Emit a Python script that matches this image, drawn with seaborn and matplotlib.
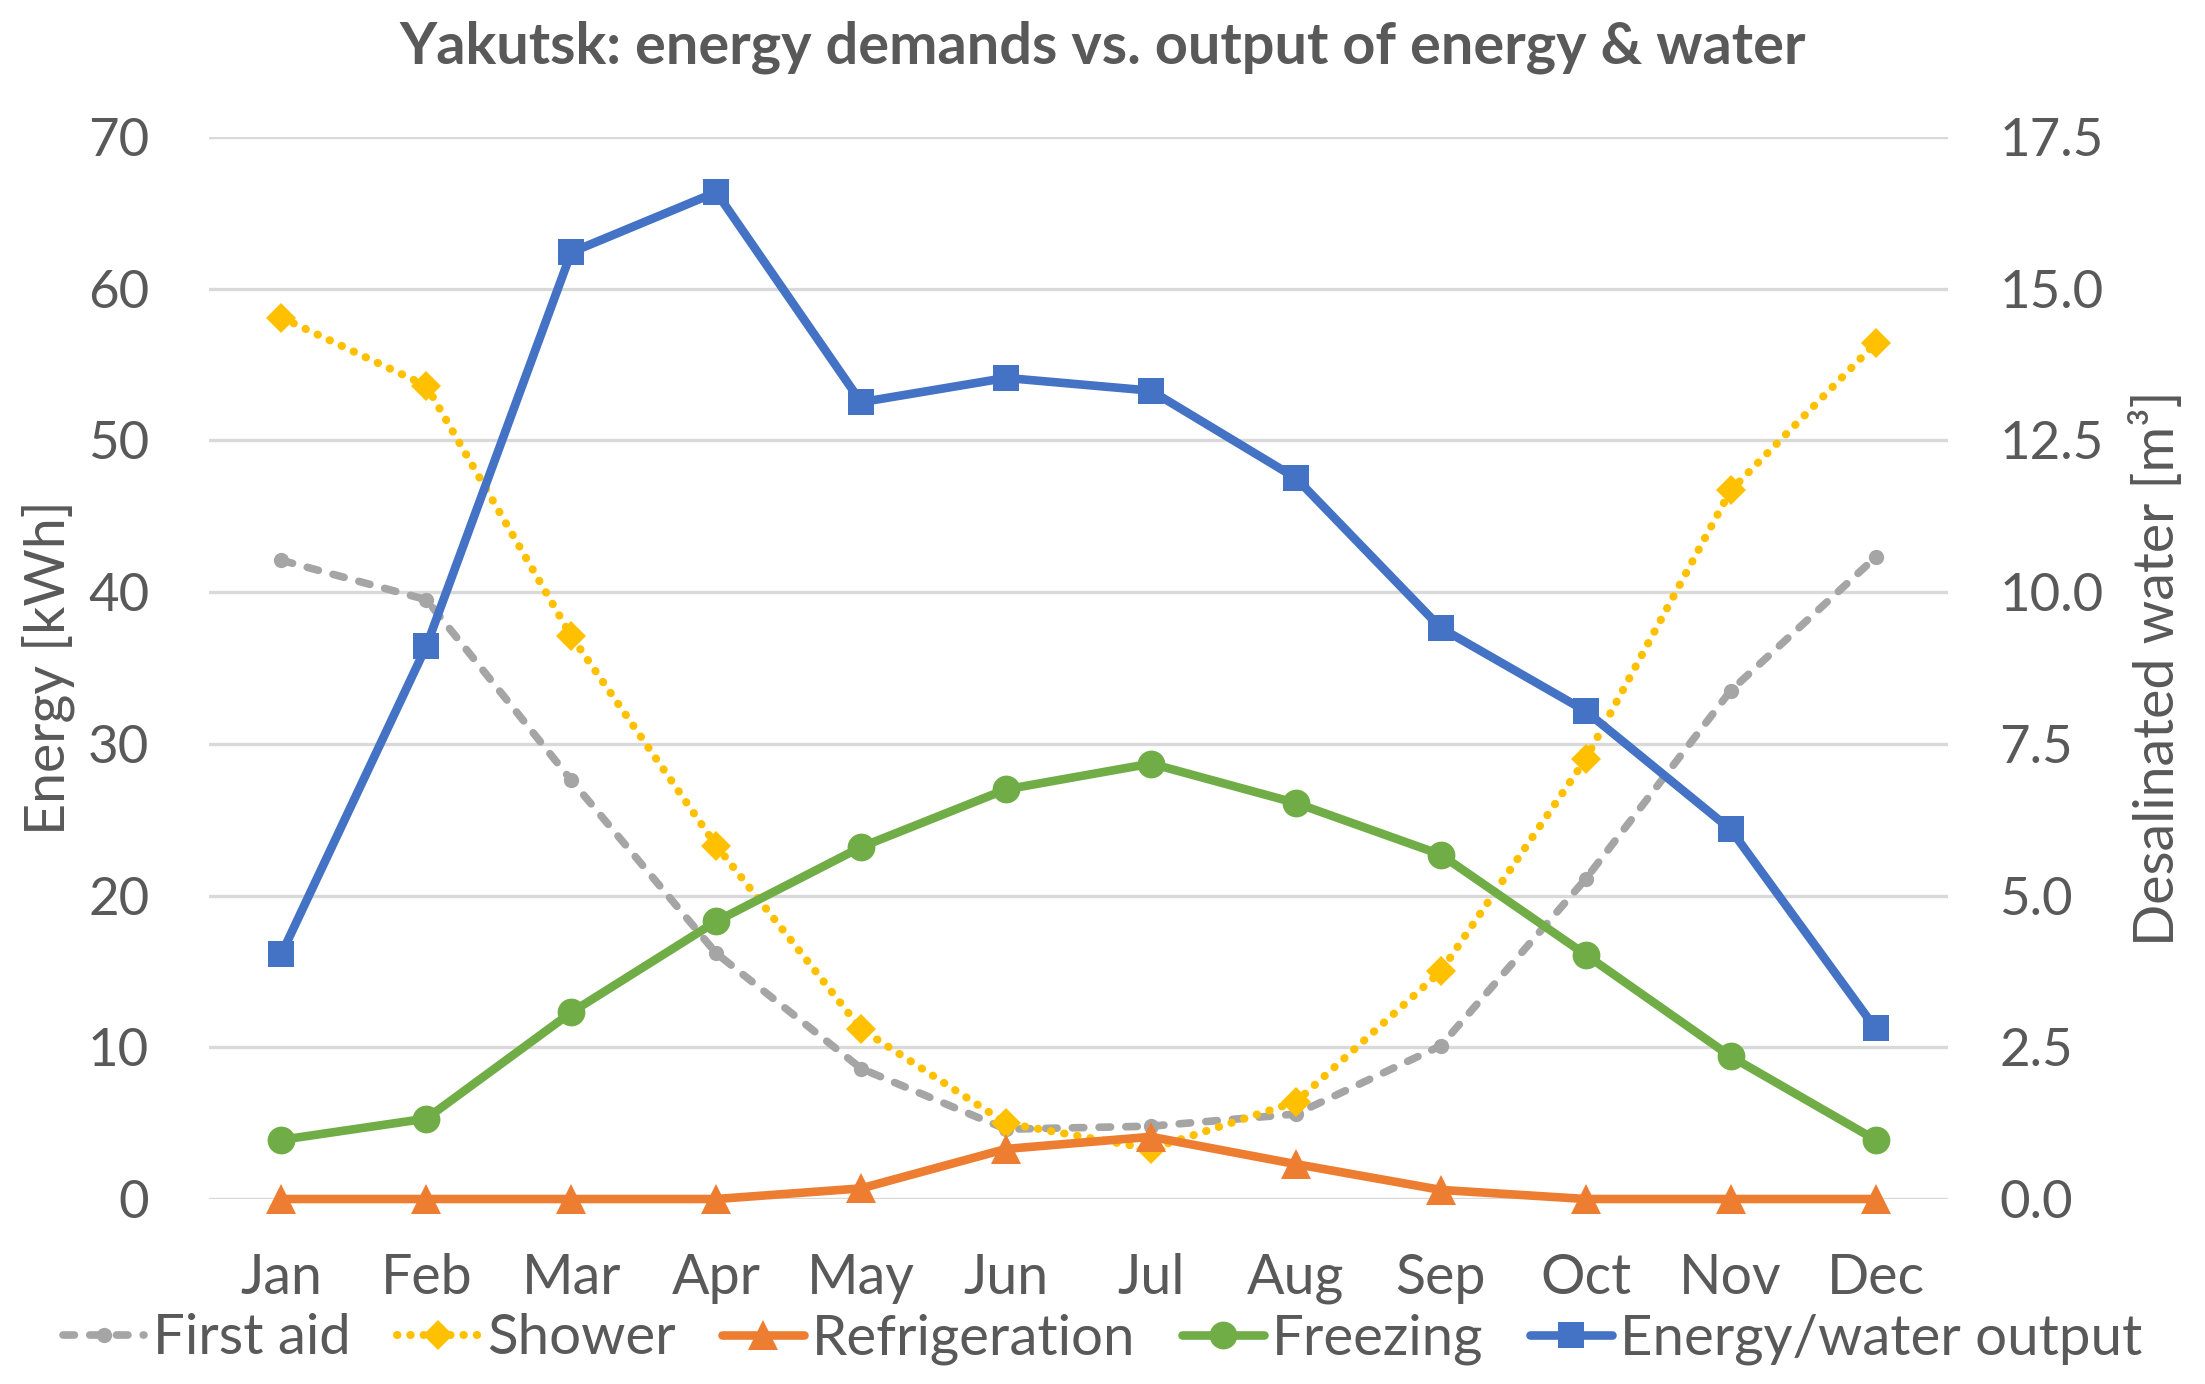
import matplotlib
matplotlib.use("Agg")
import matplotlib.pyplot as plt
import seaborn as sns
import pandas as pd

months = ["Jan", "Feb", "Mar", "Apr", "May", "Jun", "Jul", "Aug", "Sep", "Oct", "Nov", "Dec"]
first_aid = [42.1, 39.5, 27.6, 16.2, 8.6, 4.6, 4.8, 5.6, 10.1, 21.1, 33.5, 42.3]
shower = [58.1, 53.6, 37.1, 23.3, 11.2, 5.0, 3.3, 6.4, 15.0, 29.0, 46.7, 56.4]
refrigeration = [0.0, 0.0, 0.0, 0.0, 0.7, 3.3, 4.1, 2.3, 0.6, 0.0, 0.0, 0.0]
freezing = [3.9, 5.3, 12.3, 18.3, 23.2, 27.0, 28.7, 26.1, 22.7, 16.1, 9.4, 3.9]
water_output = [4.04, 9.11, 15.6, 16.59, 13.13, 13.53, 13.32, 11.88, 9.41, 8.04, 6.09, 2.81]

left_ticks = [0, 10, 20, 30, 40, 50, 60, 70]
right_ticks = [0.0, 2.5, 5.0, 7.5, 10.0, 12.5, 15.0, 17.5]

sns.set_theme(style="white")
plt.rcParams["font.family"] = ["Lato", "DejaVu Sans"]
TXT = "#595959"

df = pd.DataFrame({"month": months, "First aid": first_aid, "Shower": shower,
                   "Refrigeration": refrigeration, "Freezing": freezing,
                   "Energy/water output": water_output})

fig = plt.figure(figsize=(22.05, 13.84), dpi=100)
ax = fig.add_axes([209 / 2205, 1 - 1199 / 1384, (1948 - 209) / 2205, (1199 - 137) / 1384])
ax2 = ax.twinx()

common = dict(sort=False, clip_on=False, markeredgewidth=0)
sns.lineplot(data=df, x="month", y="First aid", ax=ax, color="#A5A5A5", lw=5.5,
             linestyle=(0, (1.5, 2.0)), dash_capstyle="round", marker="o", markersize=11,
             label="First aid", **common)
sns.lineplot(data=df, x="month", y="Shower", ax=ax, color="#FFC000", lw=5.8,
             linestyle=(0, (0.05, 1.6)), dash_capstyle="round", marker="D", markersize=15,
             label="Shower", **common)
sns.lineplot(data=df, x="month", y="Refrigeration", ax=ax, color="#ED7D31", lw=6.2,
             marker="^", markersize=21, label="Refrigeration", **common)
sns.lineplot(data=df, x="month", y="Freezing", ax=ax, color="#70AD47", lw=6.2,
             marker="o", markersize=20, label="Freezing", **common)
sns.lineplot(data=df, x="month", y="Energy/water output", ax=ax2, color="#4472C4", lw=6.2,
             marker="s", markersize=19, label="Energy/water output", **common)

for a in (ax, ax2):
    if a.get_legend() is not None:
        a.get_legend().remove()
    for s in a.spines.values():
        s.set_visible(False)
    a.set_xlim(-0.5, 11.5)
    a.set_xlabel("")

ax.set_ylim(0, 70)
ax.set_yticks(left_ticks)
ax.set_yticklabels([str(t) for t in left_ticks])
ax2.set_ylim(0, 17.5)
ax2.set_yticks(right_ticks)
ax2.set_yticklabels([f"{t:.1f}" for t in right_ticks])

ax.grid(axis="y", color="#D9D9D9", lw=2.4)
ax.grid(axis="x", visible=False)
ax2.grid(False)
ax.set_axisbelow(True)

ax.tick_params(axis="y", length=0, pad=43, labelsize=38, labelcolor=TXT)
ax.tick_params(axis="x", length=0, pad=39, labelsize=40, labelcolor=TXT)
ax2.tick_params(axis="y", length=0, pad=37, labelsize=38, labelcolor=TXT)

ax.set_ylabel("Energy [kWh]", fontsize=40, color=TXT)
ax.yaxis.set_label_coords((75 - 209) / 1739, 0.5)
ax2.set_ylabel("Desalinated water [m³]", fontsize=40, color=TXT)
ax2.yaxis.set_label_coords((2130 - 209) / 1739, 0.5)

fig.suptitle("Yakutsk: energy demands vs. output of energy & water", x=0.5, y=1 - 64 / 1384,
             va="baseline", fontsize=41.5, fontweight="bold", color=TXT)

h1, l1 = ax.get_legend_handles_labels()
h2, l2 = ax2.get_legend_handles_labels()
fig.legend(h1 + h2, l1 + l2, loc="center", bbox_to_anchor=(0.5, 1 - 1339 / 1384), ncol=5,
           frameon=False, fontsize=40.6, labelcolor=TXT, handlelength=1.45, handletextpad=0.15,
           columnspacing=0.82, borderaxespad=0, borderpad=0)

fig.savefig("out.png", dpi=100, facecolor="white")
